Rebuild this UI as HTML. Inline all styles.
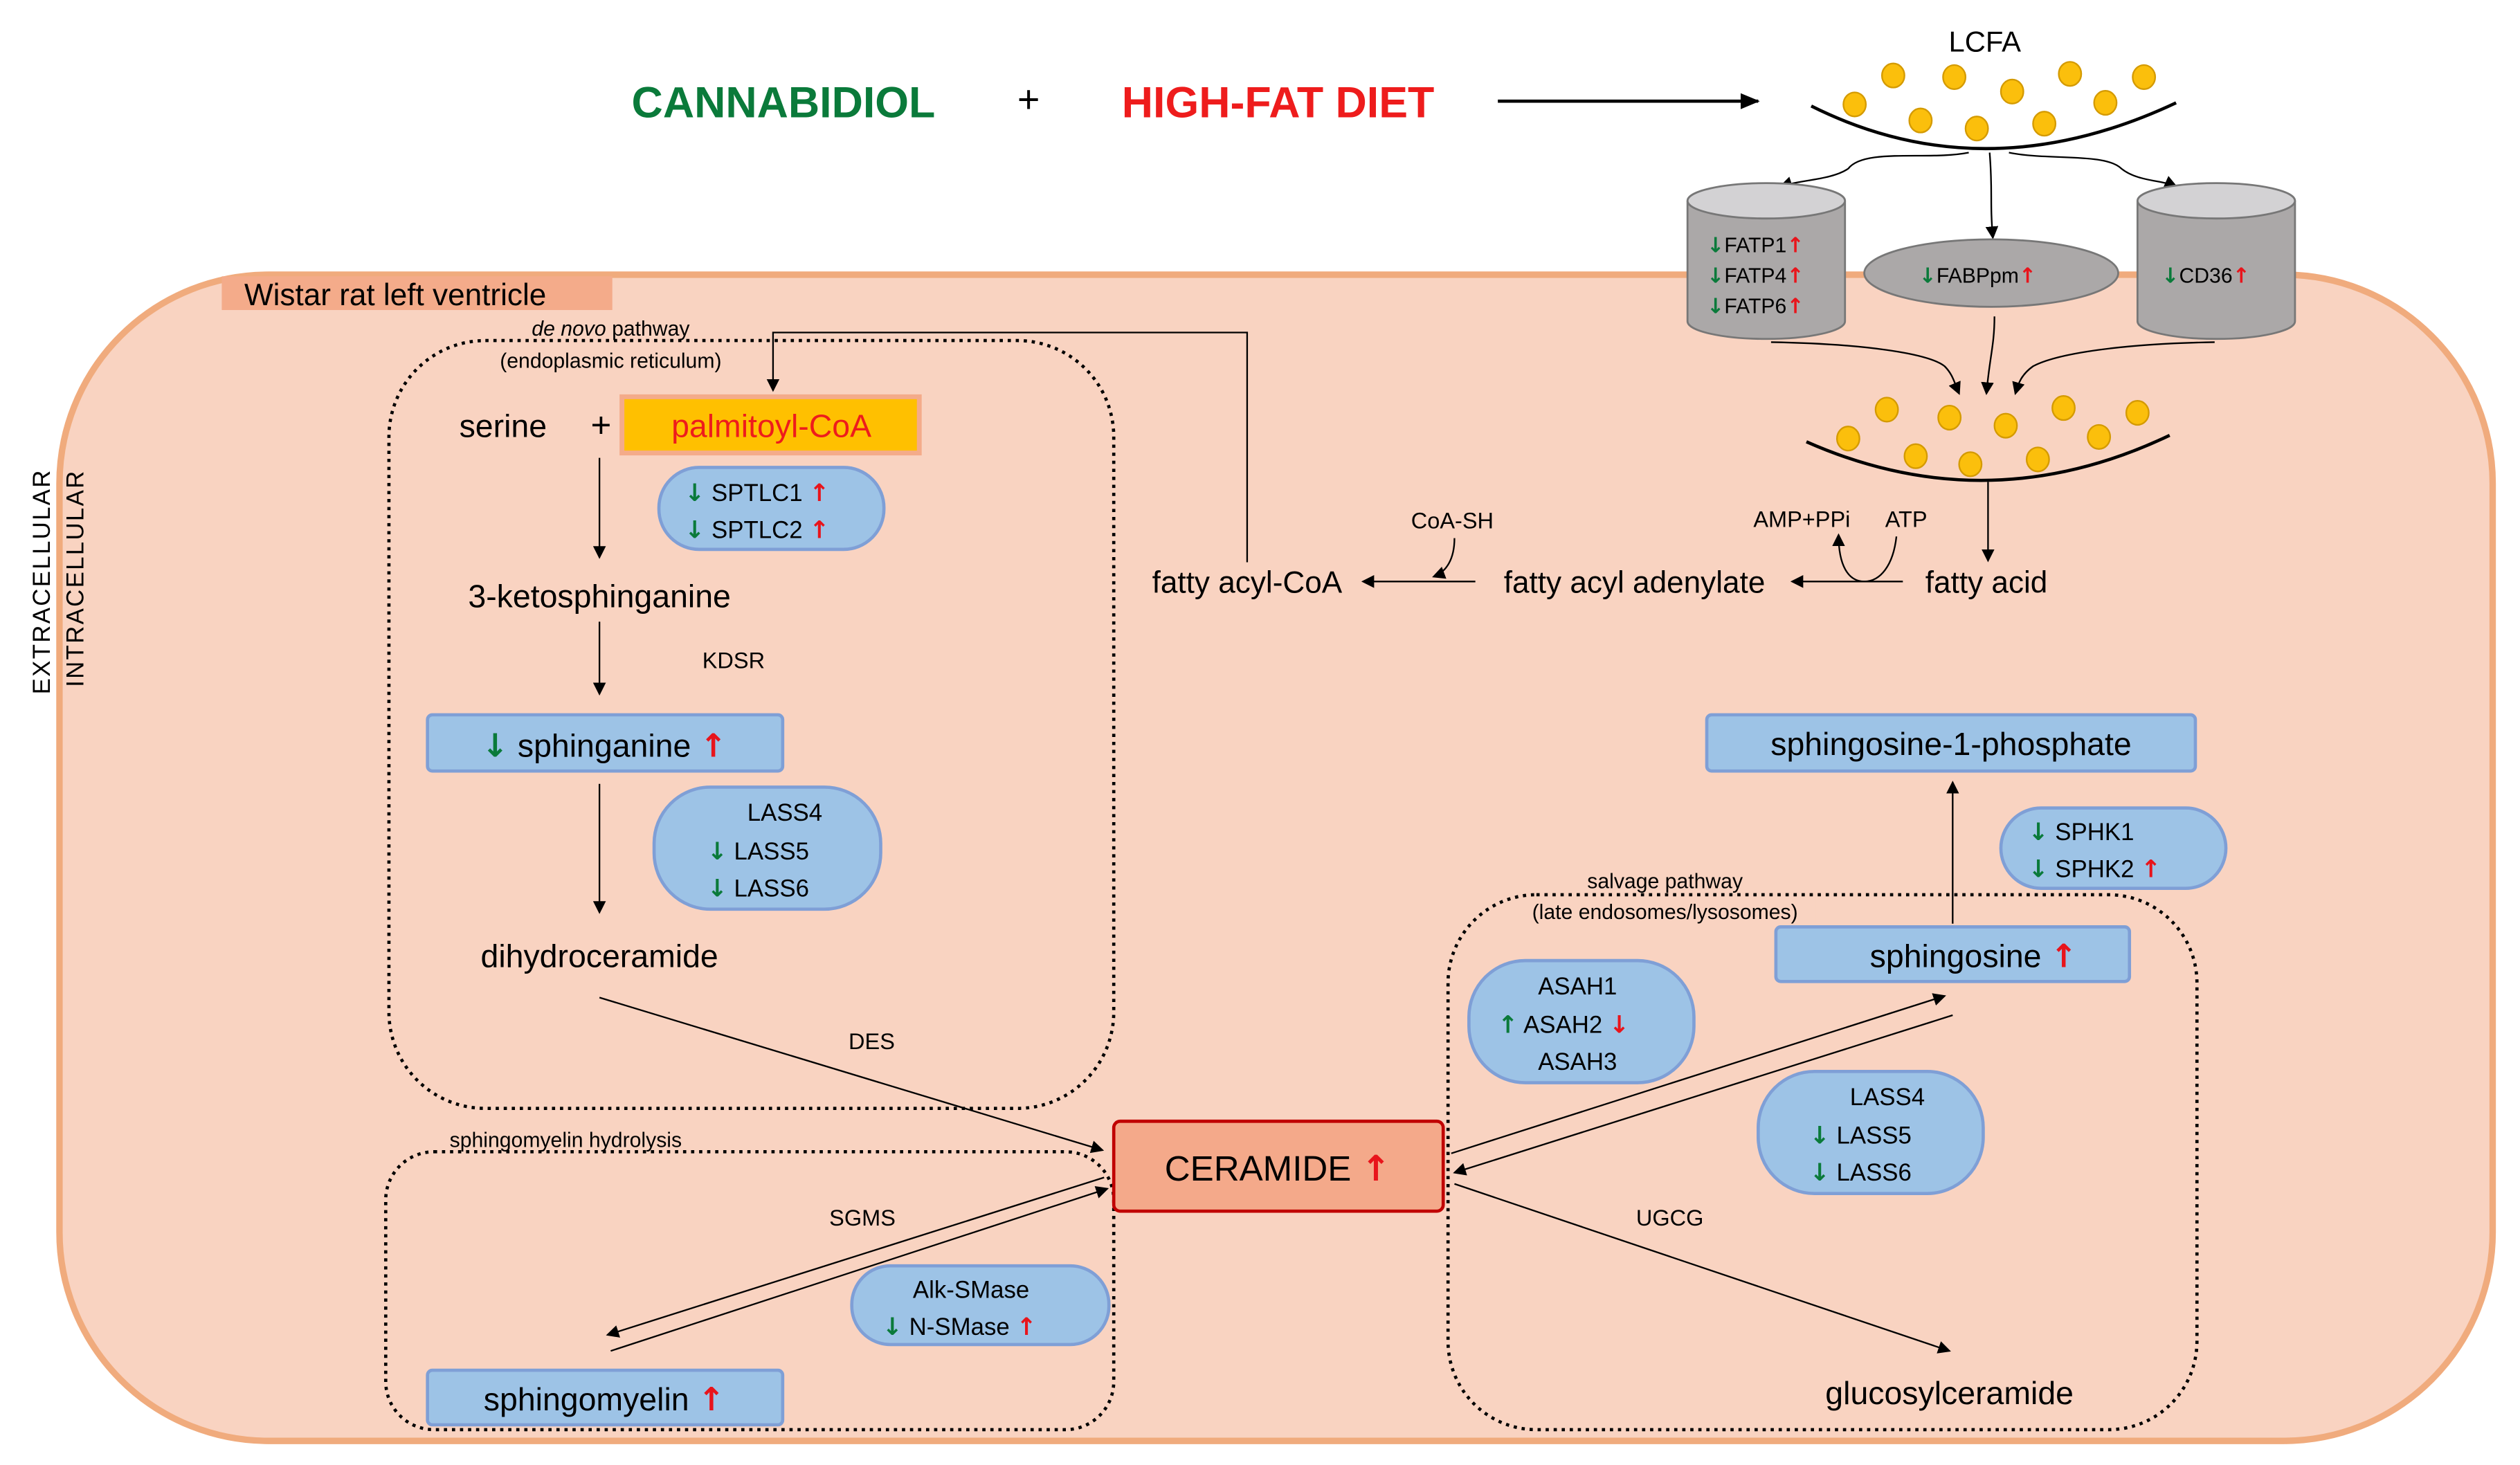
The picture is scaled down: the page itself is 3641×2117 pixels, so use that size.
<!DOCTYPE html>
<html><head><meta charset="utf-8"><style>
html,body{margin:0;padding:0;background:#fff}
svg{display:block}
text{font-family:"Liberation Sans",sans-serif;fill:#000}
.g{fill:#0a7a3a;font-family:"DejaVu Sans",sans-serif;font-weight:bold}
.r{fill:#e8141b;font-family:"DejaVu Sans",sans-serif;font-weight:bold}
</style></head><body>
<svg width="3641" height="2117" viewBox="0 0 1568 912" preserveAspectRatio="none" xmlns="http://www.w3.org/2000/svg">
<defs>
<marker id="a" markerWidth="8" markerHeight="8" refX="7" refY="4" orient="auto" markerUnits="userSpaceOnUse"><path d="M0,0 L8,4 L0,8 z" fill="#000"/></marker>
<marker id="b" markerWidth="12" markerHeight="10" refX="11" refY="5" orient="auto" markerUnits="userSpaceOnUse"><path d="M0,0 L12,5 L0,10 z" fill="#000"/></marker>
</defs>
<rect x="0" y="0" width="1568" height="912" fill="#fff"/>
<rect x="37" y="171" width="1514" height="726" rx="130" ry="130" fill="#f9d3c1" stroke="#f0ab7d" stroke-width="4"/>
<rect x="138" y="172" width="243" height="21" fill="#f4ab8a"/>
<text x="152" y="190" font-size="19">Wistar rat left ventricle</text>
<text transform="translate(31,362) rotate(-90)" font-size="15" text-anchor="middle" letter-spacing="1">EXTRACELLULAR</text>
<text transform="translate(52,360) rotate(-90)" font-size="15" text-anchor="middle" letter-spacing="1">INTRACELLULAR</text>

<text x="393" y="73" font-size="27" font-weight="bold" style="fill:#0a7a3a">CANNABIDIOL</text>
<text x="633" y="70" font-size="24">+</text>
<text x="698" y="73" font-size="27" font-weight="bold" style="fill:#ee1c1c">HIGH-FAT DIET</text>
<line x1="932" y1="63" x2="1094" y2="63" stroke="#000" stroke-width="2" marker-end="url(#b)"/>

<text x="1235" y="32" font-size="18" text-anchor="middle">LCFA</text>
<path d="M1127,66 Q1235,120 1354,64" fill="none" stroke="#000" stroke-width="2"/>
<g fill="#fbbf0c" stroke="#d49a00" stroke-width="1">
<ellipse cx="1178" cy="47" rx="7" ry="7.5"/><ellipse cx="1216" cy="48" rx="7" ry="7.5"/><ellipse cx="1288" cy="46" rx="7" ry="7.5"/><ellipse cx="1334" cy="48" rx="7" ry="7.5"/>
<ellipse cx="1154" cy="65" rx="7" ry="7.5"/><ellipse cx="1252" cy="57" rx="7" ry="7.5"/><ellipse cx="1310" cy="64" rx="7" ry="7.5"/>
<ellipse cx="1195" cy="75" rx="7" ry="7.5"/><ellipse cx="1230" cy="80" rx="7" ry="7.5"/><ellipse cx="1272" cy="77" rx="7" ry="7.5"/>
</g>
<path d="M1225,95 C1200,100 1160,92 1150,105 C1140,112 1120,112 1108,116" fill="none" stroke="#000" stroke-width="1" marker-end="url(#a)"/>
<path d="M1238,95 C1240,120 1238,125 1240,148" fill="none" stroke="#000" stroke-width="1" marker-end="url(#a)"/>
<path d="M1250,95 C1275,100 1310,95 1320,105 C1330,113 1345,112 1354,116" fill="none" stroke="#000" stroke-width="1" marker-end="url(#a)"/>

<g stroke="#777" stroke-width="1.2">
<path d="M1050,125 L1050,200 A49,11 0 0 0 1148,200 L1148,125" fill="#aba8a8"/>
<ellipse cx="1099" cy="125" rx="49" ry="11" fill="#d3d2d4"/>
<path d="M1330,125 L1330,200 A49,11 0 0 0 1428,200 L1428,125" fill="#aba8a8"/>
<ellipse cx="1379" cy="125" rx="49" ry="11" fill="#d3d2d4"/>
<ellipse cx="1239" cy="170" rx="79" ry="21" fill="#aba8a8"/>
</g>
<g font-size="13">
<text x="1062" y="157"><tspan class="g">↓</tspan>FATP1<tspan class="r">↑</tspan></text>
<text x="1062" y="176"><tspan class="g">↓</tspan>FATP4<tspan class="r">↑</tspan></text>
<text x="1062" y="195"><tspan class="g">↓</tspan>FATP6<tspan class="r">↑</tspan></text>
<text x="1194" y="176"><tspan class="g">↓</tspan>FABPpm<tspan class="r">↑</tspan></text>
<text x="1345" y="176"><tspan class="g">↓</tspan>CD36<tspan class="r">↑</tspan></text>
</g>
<path d="M1102,213 C1160,214 1200,220 1210,228 C1215,233 1216,238 1219,245" fill="none" stroke="#000" stroke-width="1" marker-end="url(#a)"/>
<path d="M1241,197 C1241,215 1238,222 1236,245" fill="none" stroke="#000" stroke-width="1" marker-end="url(#a)"/>
<path d="M1378,213 C1320,214 1280,220 1265,228 C1258,233 1256,238 1254,245" fill="none" stroke="#000" stroke-width="1" marker-end="url(#a)"/>

<path d="M1124,275 Q1237,325 1350,271" fill="none" stroke="#000" stroke-width="2"/>
<g fill="#fbbf0c" stroke="#d49a00" stroke-width="1">
<ellipse cx="1174" cy="255" rx="7" ry="7.5"/><ellipse cx="1213" cy="260" rx="7" ry="7.5"/><ellipse cx="1284" cy="254" rx="7" ry="7.5"/><ellipse cx="1330" cy="257" rx="7" ry="7.5"/>
<ellipse cx="1150" cy="273" rx="7" ry="7.5"/><ellipse cx="1248" cy="265" rx="7" ry="7.5"/><ellipse cx="1306" cy="272" rx="7" ry="7.5"/>
<ellipse cx="1192" cy="284" rx="7" ry="7.5"/><ellipse cx="1226" cy="289" rx="7" ry="7.5"/><ellipse cx="1268" cy="286" rx="7" ry="7.5"/>
</g>
<line x1="1237" y1="300" x2="1237" y2="349" stroke="#000" stroke-width="1" marker-end="url(#a)"/>

<text x="1236" y="369" font-size="19" text-anchor="middle">fatty acid</text>
<text x="1017" y="369" font-size="19" text-anchor="middle">fatty acyl adenylate</text>
<text x="776" y="369" font-size="19" text-anchor="middle">fatty acyl-CoA</text>
<line x1="1184" y1="362" x2="1115" y2="362" stroke="#000" stroke-width="1" marker-end="url(#a)"/>
<line x1="918" y1="362" x2="848" y2="362" stroke="#000" stroke-width="1" marker-end="url(#a)"/>
<text x="1091" y="328" font-size="14">AMP+PPi</text>
<text x="1173" y="328" font-size="14">ATP</text>
<path d="M1180,334 C1178,352 1170,362 1160,362 C1150,362 1144,352 1144,333" fill="none" stroke="#000" stroke-width="1" marker-end="url(#a)"/>
<text x="878" y="329" font-size="14">CoA-SH</text>
<path d="M905,335 C905,348 900,356 892,359" fill="none" stroke="#000" stroke-width="1" marker-end="url(#a)"/>
<path d="M776,350 L776,207 L481,207 L481,243" fill="none" stroke="#000" stroke-width="1" marker-end="url(#a)"/>

<g fill="none" stroke="#000" stroke-width="2" stroke-dasharray="2,3">
<rect x="242" y="212" width="451" height="478" rx="60"/>
<rect x="901" y="557" width="466" height="333" rx="55"/>
<rect x="240" y="717" width="453" height="173" rx="30"/>
</g>
<rect x="305" y="214" width="150" height="20" fill="#f9d3c1"/>
<text x="380" y="209" font-size="13" text-anchor="middle"><tspan font-style="italic">de novo</tspan> pathway</text>
<text x="380" y="229" font-size="13" text-anchor="middle">(endoplasmic reticulum)</text>
<rect x="945" y="559" width="185" height="16" fill="#f9d3c1"/>
<text x="1036" y="553" font-size="13" text-anchor="middle">salvage pathway</text>
<text x="1036" y="572" font-size="13" text-anchor="middle">(late endosomes/lysosomes)</text>
<text x="352" y="714" font-size="13" text-anchor="middle">sphingomyelin hydrolysis</text>

<text x="313" y="272" font-size="20" text-anchor="middle">serine</text>
<text x="374" y="272" font-size="22" text-anchor="middle">+</text>
<rect x="387" y="247" width="185" height="35" fill="#ffc000" stroke="#f4ab8a" stroke-width="3"/>
<text x="480" y="272" font-size="20" text-anchor="middle" style="fill:#ee1c1c">palmitoyl-CoA</text>
<rect x="410" y="291" width="140" height="51" rx="25" fill="#9dc3e6" stroke="#7f9fd6" stroke-width="2"/>
<text x="426" y="312" font-size="15"><tspan class="g">↓</tspan> SPTLC1 <tspan class="r">↑</tspan></text>
<text x="426" y="335" font-size="15"><tspan class="g">↓</tspan> SPTLC2 <tspan class="r">↑</tspan></text>
<line x1="373" y1="285" x2="373" y2="347" stroke="#000" stroke-width="1" marker-end="url(#a)"/>
<text x="373" y="378" font-size="20" text-anchor="middle">3-ketosphinganine</text>
<line x1="373" y1="387" x2="373" y2="432" stroke="#000" stroke-width="1" marker-end="url(#a)"/>
<text x="437" y="416" font-size="14">KDSR</text>
<rect x="266" y="445" width="221" height="35" rx="3" fill="#9dc3e6" stroke="#7f9fd6" stroke-width="2"/>
<text x="376" y="471" font-size="20" text-anchor="middle"><tspan class="g">↓</tspan> sphinganine <tspan class="r">↑</tspan></text>
<line x1="373" y1="488" x2="373" y2="568" stroke="#000" stroke-width="1" marker-end="url(#a)"/>
<rect x="407" y="490" width="141" height="76" rx="35" fill="#9dc3e6" stroke="#7f9fd6" stroke-width="2"/>
<text x="465" y="511" font-size="15">LASS4</text>
<text x="440" y="535" font-size="15"><tspan class="g">↓</tspan> LASS5</text>
<text x="440" y="558" font-size="15"><tspan class="g">↓</tspan> LASS6</text>
<text x="373" y="602" font-size="20" text-anchor="middle">dihydroceramide</text>
<line x1="373" y1="621" x2="686" y2="716" stroke="#000" stroke-width="1" marker-end="url(#a)"/>
<text x="528" y="653" font-size="14">DES</text>

<rect x="693" y="698" width="205" height="56" rx="4" fill="#f4a98a" stroke="#c00000" stroke-width="2"/>
<text x="795" y="735" font-size="22" text-anchor="middle">CERAMIDE <tspan class="r">↑</tspan></text>

<line x1="687" y1="733" x2="378" y2="831" stroke="#000" stroke-width="1" marker-end="url(#a)"/>
<line x1="380" y1="841" x2="689" y2="740" stroke="#000" stroke-width="1" marker-end="url(#a)"/>
<text x="516" y="763" font-size="14">SGMS</text>
<rect x="530" y="788" width="160" height="49" rx="24" fill="#9dc3e6" stroke="#7f9fd6" stroke-width="2"/>
<text x="568" y="808" font-size="15">Alk-SMase</text>
<text x="549" y="831" font-size="15"><tspan class="g">↓</tspan> N-SMase <tspan class="r">↑</tspan></text>
<rect x="266" y="853" width="221" height="34" rx="3" fill="#9dc3e6" stroke="#7f9fd6" stroke-width="2"/>
<text x="376" y="878" font-size="20" text-anchor="middle">sphingomyelin <tspan class="r">↑</tspan></text>

<rect x="1062" y="445" width="304" height="35" rx="3" fill="#9dc3e6" stroke="#7f9fd6" stroke-width="2"/>
<text x="1214" y="470" font-size="20" text-anchor="middle">sphingosine-1-phosphate</text>
<line x1="1215" y1="575" x2="1215" y2="487" stroke="#000" stroke-width="1" marker-end="url(#a)"/>
<rect x="1245" y="503" width="140" height="50" rx="25" fill="#9dc3e6" stroke="#7f9fd6" stroke-width="2"/>
<text x="1262" y="523" font-size="15"><tspan class="g">↓</tspan> SPHK1</text>
<text x="1262" y="546" font-size="15"><tspan class="g">↓</tspan> SPHK2 <tspan class="r">↑</tspan></text>
<rect x="1105" y="577" width="220" height="34" rx="3" fill="#9dc3e6" stroke="#7f9fd6" stroke-width="2"/>
<text x="1228" y="602" font-size="20" text-anchor="middle">sphingosine <tspan class="r">↑</tspan></text>
<rect x="914" y="598" width="140" height="76" rx="35" fill="#9dc3e6" stroke="#7f9fd6" stroke-width="2"/>
<text x="957" y="619" font-size="15">ASAH1</text>
<text x="932" y="643" font-size="15"><tspan class="g">↑</tspan> ASAH2 <tspan class="r">↓</tspan></text>
<text x="957" y="666" font-size="15">ASAH3</text>
<rect x="1094" y="667" width="140" height="76" rx="35" fill="#9dc3e6" stroke="#7f9fd6" stroke-width="2"/>
<text x="1151" y="688" font-size="15">LASS4</text>
<text x="1126" y="712" font-size="15"><tspan class="g">↓</tspan> LASS5</text>
<text x="1126" y="735" font-size="15"><tspan class="g">↓</tspan> LASS6</text>
<line x1="903" y1="718" x2="1210" y2="620" stroke="#000" stroke-width="1" marker-end="url(#a)"/>
<line x1="1215" y1="632" x2="905" y2="730" stroke="#000" stroke-width="1" marker-end="url(#a)"/>
<line x1="905" y1="737" x2="1213" y2="841" stroke="#000" stroke-width="1" marker-end="url(#a)"/>
<text x="1018" y="763" font-size="14">UGCG</text>
<text x="1213" y="874" font-size="20" text-anchor="middle">glucosylceramide</text>
</svg>
</body></html>
